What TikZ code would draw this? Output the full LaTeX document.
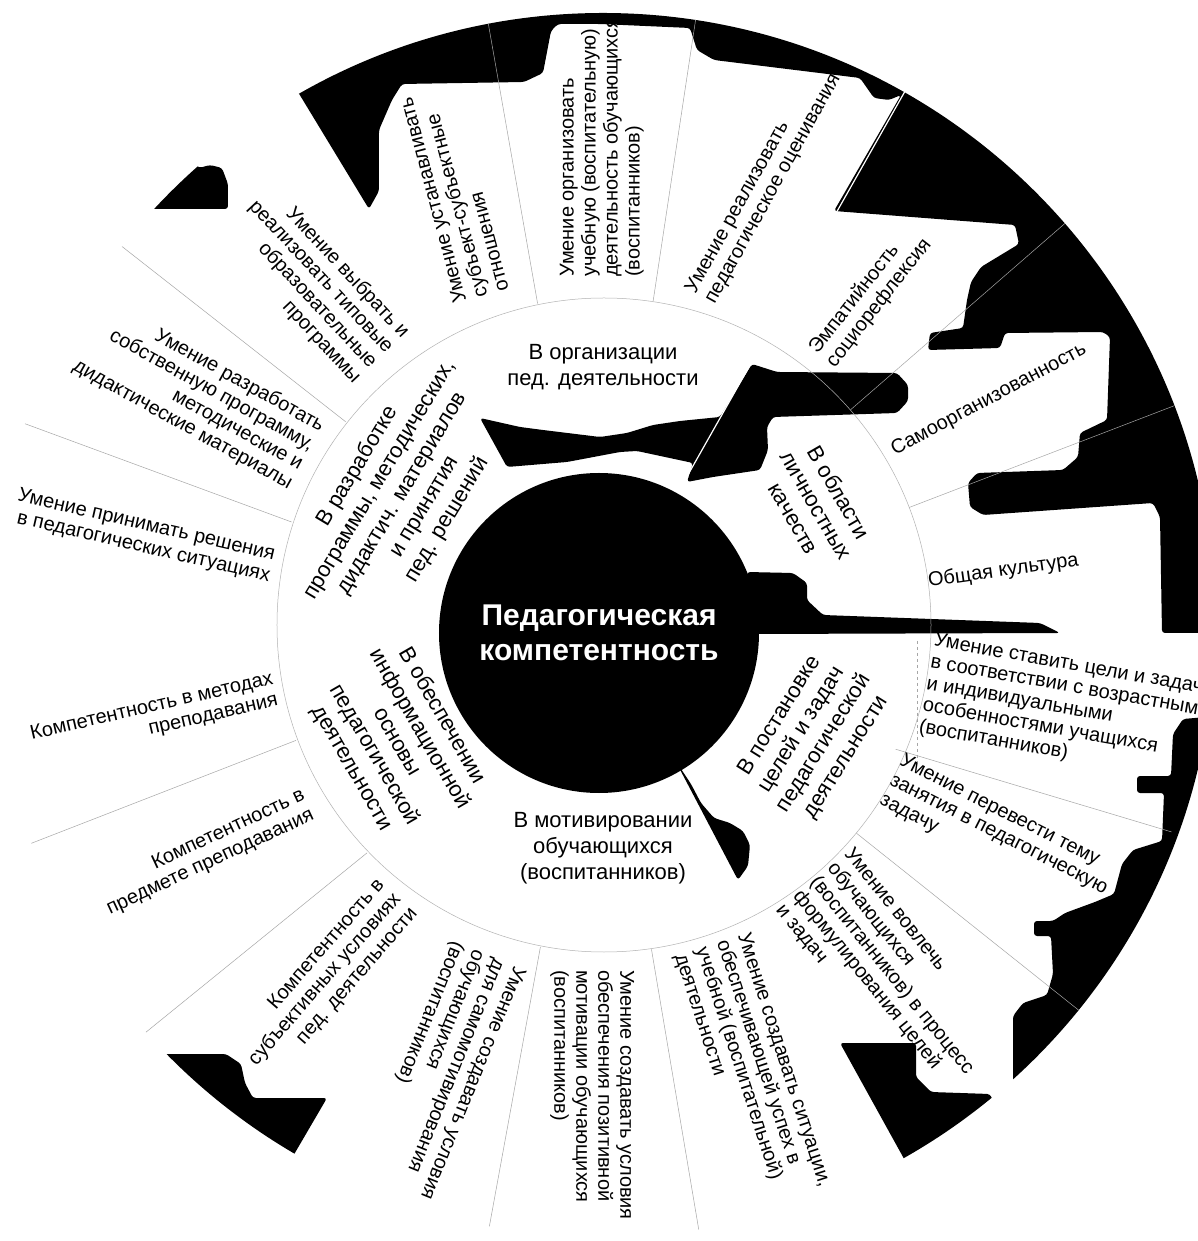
\documentclass[tikz,border=0pt]{standalone}
\usepackage{fontspec}
\setmainfont{Liberation Sans}

\begin{document}
\begin{tikzpicture}[x=1pt, y=1pt,
    skill/.style={font=\fontsize{20}{22}\selectfont, inner sep=0pt},
    skillout/.style={skill, anchor=west, align=left},
    skillin/.style={skill, anchor=east, align=right},
    area/.style={font=\fontsize{22}{26}\selectfont, align=center, inner sep=0pt},
    blot/.style={fill=black, rounded corners=3pt},
    sep/.style={gray!70, line width=0.5pt}]
    \fill[white] (-603,-616) rectangle (594,625);
    \useasboundingbox (-603,-616) rectangle (594,625);
    \coordinate (C) at (0,0);

    % Black spots of the scan, in pixel coordinates
    \begin{scope}
      \clip (C) circle[radius=612pt];
      \begin{scope}[shift={(-603,625)}, yscale=-1]
        \fill[blot] (298,92) -- (369,209) -- (379,191) -- (379,130) -- (392,100) -- (402,84)
          -- (524,82) -- (543,73) -- (551,31) -- (558,24) -- (600,24) -- (690,28) -- (697,50)
          -- (714,60) -- (860,78) -- (874,98) -- (889,100) -- (901,95) -- (834,211)
          -- (1015,225) -- (1019,244) -- (981,267) -- (971,282) -- (967,300) -- (963,328)
          -- (930,333) -- (928,350) -- (1000,348) -- (1005,333) -- (1103,332) -- (1110,337)
          -- (1107,420) -- (1080,433) -- (1078,457) -- (1063,470) -- (977,473) -- (968,483)
          -- (970,507) -- (983,515) -- (1153,503) -- (1160,517) -- (1162,633) -- (1300,633)
          -- (1300,-100) -- (250,-100) -- (250,40) -- cycle;
        \fill[blot] (480,418) -- (520,427) -- (543,430) -- (600,437) -- (627,433) -- (653,425)
          -- (680,421) -- (720,417) -- (752,364) -- (777,372) -- (897,373) -- (908,385)
          -- (908,401) -- (897,413) -- (773,417) -- (767,427) -- (768,450) -- (760,470)
          -- (713,477) -- (687,482) -- (693,463) -- (637,451) -- (620,452) -- (567,462)
          -- (507,467) -- cycle;
        \fill[blot] (747,572) -- (793,573) -- (807,583) -- (807,600) -- (823,615) -- (1040,623)
          -- (1060,633) -- (752,634) -- cycle;
        \fill[blot] (1300,709) -- (1183,719) -- (1173,734) -- (1171,776) -- (1137,776) -- (1137,793)
          -- (1164,793) -- (1162,841) -- (1133,850) -- (1122,864) -- (1114,894) -- (1095,902)
          -- (1065,913) -- (1053,921) -- (1034,921) -- (1034,936) -- (1051,936) -- (1053,974)
          -- (1047,995) -- (1023,1003) -- (1013,1016) -- (1013,1120) -- (1300,1120) -- cycle;
        \fill[blot] (840,1043) -- (916,1043) -- (916,1077) -- (931,1092) -- (990,1094)
          -- (1010,1140) -- (913,1175) -- cycle;
        \fill[blot] (675,760) -- (691,784) -- (701,803) -- (714,818) -- (730,823) -- (743,831)
          -- (750,845) -- (748,866) -- (738,880) -- cycle;
        \fill[blot] (100,1054) -- (226,1054) -- (241,1064) -- (245,1083) -- (253,1098)
          -- (327,1098) -- (275,1187) -- (100,1187) -- cycle;
        \fill[blot] (120,209) -- (228,209) -- (228,184) -- (222,168) -- (210,165) -- (199,168)
          -- (170,140) -- (120,140) -- cycle;
      \end{scope}
    \end{scope}
    \draw[white, line width=1.2pt] (60.5:160) -- (60.5:615);

    % Ring and separators of the skills
    \node[circle, draw=gray!60, line width=0.5pt, minimum size=654pt, inner sep=0pt] (ring) at (1,0) {};
    \draw[sep] (101.5:328) -- (100.8:612);
    \draw[sep] (81.2:328) -- (81.3:612);
    \draw[sep] (41:328) -- (41:612);
    \draw[sep] (21:328) -- (21:612);
    \draw[sep] (-23:318) -- (-20:605);
    \draw[sep] (-39.4:328) -- (-39:612);
    \draw[sep] (-81.5:328) -- (-81:612);
    \draw[sep] (-101:328) -- (-100.7:612);
    \draw[sep] (224:328) -- (221.7:612);
    \draw[sep] (200.6:328) -- (200.9:612);
    \draw[sep] (161.7:328) -- (160.8:612);
    \draw[sep] (141.7:328) -- (141.8:612);
    \draw[sep, dashed] (314,-16) -- (314,-137);

    % Centre
    \node[circle, fill=black, minimum size=320pt, inner sep=0pt, text=white, align=center,
      font=\bfseries\fontsize{30}{35}\selectfont] (core) at (-4,-8) {Педагогическая\\компетентность};

    % Areas
    \node[area] (org) at (90:258) {В организации\\пед. деятельности};
    \node[area, rotate=59] (prog) at (146.7:240) {В разработке\\программы, методических,\\дидактич. материалов\\и принятия\\пед. решений};
    \node[area, rotate=-60] (pers) at (29.3:245) {В области\\личностных\\качеств};
    \node[area, rotate=-60] (info) at (209.6:237) {В обеспечении\\информационной\\основы\\педагогической\\деятельности};
    \node[area] (motiv) at (270:223) {В мотивировании\\обучающихся\\(воспитанников)};
    \node[area, rotate=58] (goal) at (-28:238) {В постановке\\целей и задач\\педагогической\\деятельности};

    % Skills, reading outwards
    \node[skillout, rotate=105] (subj) at (110.4:350) {Умение устанавливать\\субъект-субъектные\\отношения};
    \node[skillout, rotate=90] (act) at (90.2:348) {Умение организовать\\учебную (воспитательную)\\деятельность обучающихся\\(воспитанников)};
    \node[skillout, rotate=61] (eval) at (73.4:342) {Умение реализовать\\педагогическое оценивания};
    \node[skillout, rotate=52] (emp) at (50.6:345) {Эмпатийность\\социорефлексия};
    \node[skillout, rotate=28] (self) at (31:338) {Самоорганизованность};
    \node[skillout, rotate=8] (cult) at (7.6:328) {Общая культура};
    \node[skillout, rotate=-10] (aims) at (-10.4:329) {Умение ставить цели и задачи\\в соответствии с возрастными\\и индивидуальными\\особенностями учащихся\\(воспитанников)};
    \node[skillout, rotate=-27] (topic) at (-28.3:327) {Умение перевести тему\\занятия в педагогическую\\задачу};
    \node[skillout, rotate=-51] (draw) at (-50.4:330) {Умение вовлечь\\обучающихся\\(воспитанников) в процесс\\формулирования целей\\и задач};
    \node[skillout, rotate=-72] (succ) at (-71.3:337) {Умение создавать ситуации,\\обеспечивающей успех в\\учебной (воспитательной)\\деятельности};
    \node[skillout, rotate=-90] (pos) at (-91.8:345) {Умение создавать условия\\обеспечения позитивной\\мотивации обучающихся\\(воспитанников)};
    \node[skillout, rotate=-112] (selfmot) at (-109.2:349) {Умение создавать условия\\для самомотивирования\\обучающихся\\(воспитанников)};

    % Skills, reading inwards
    \node[skillin, rotate=49] (cond) at (232.9:340) {Компетентность в\\субъективных условиях\\пед. деятельности};
    \node[skillin, rotate=25] (subjm) at (211.4:345) {Компетентность в\\предмете преподавания};
    \node[skillin, rotate=13] (meth) at (191.2:334) {Компетентность в методах\\преподавания};
    \node[skillin, rotate=-13] (dec) at (169.9:336) {Умение принимать решения\\в педагогических ситуациях};
    \node[skillin, rotate=-29] (own) at (150.3:341) {Умение разработать\\собственную программу,\\методические и\\дидактические материалы};
    \node[skillin, rotate=-47] (typ) at (129.7:347) {Умение выбрать и\\реализовать типовые\\образовательные\\программы};
\end{tikzpicture}
\end{document}
